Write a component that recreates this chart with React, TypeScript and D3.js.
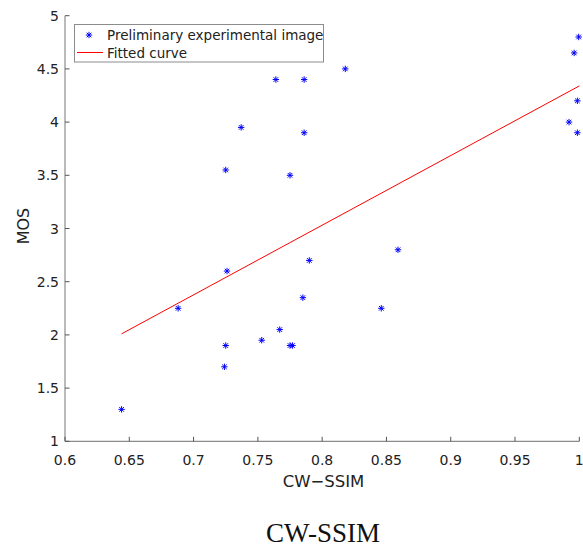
import React from "react";
import * as d3 from "d3";

const xData = [0.644, 0.688, 0.724, 0.725, 0.725, 0.726, 0.737, 0.753, 0.764, 0.767, 0.775, 0.775, 0.777, 0.785, 0.786, 0.786, 0.79, 0.818, 0.846, 0.859, 0.992, 0.996, 0.9985, 0.9985, 0.9995];
const yData = [1.3, 2.25, 1.7, 1.9, 3.55, 2.6, 3.95, 1.95, 4.4, 2.05, 3.5, 1.9, 1.9, 2.35, 4.4, 3.9, 2.7, 4.5, 2.25, 2.8, 4.0, 4.65, 4.2, 3.9, 4.8];
const fitX = [0.644, 1.0];
const fitY = [2.01, 4.34];
const xTicks = [0.6, 0.65, 0.7, 0.75, 0.8, 0.85, 0.9, 0.95, 1];
const yTicks = [1, 1.5, 2, 2.5, 3, 3.5, 4, 4.5, 5];
const legendLabels = ["Preliminary experimental image", "Fitted curve"];

const W = 583, H = 551;
const L = 65, R = 579.3, T = 15.7, B = 441.3;
const axisColor = "#8c8c8c";
const font = "'DejaVu Sans', sans-serif";

function Star({ cx, cy }: { cx: number; cy: number }) {
  const r = 3.2;
  const d = r * 0.72;
  return (
    <g stroke="#0000ff" strokeWidth={1}>
      <line x1={cx - r} y1={cy} x2={cx + r} y2={cy} />
      <line x1={cx} y1={cy - r} x2={cx} y2={cy + r} />
      <line x1={cx - d} y1={cy - d} x2={cx + d} y2={cy + d} />
      <line x1={cx - d} y1={cy + d} x2={cx + d} y2={cy - d} />
    </g>
  );
}

export default function App() {
  const x = d3.scaleLinear().domain([0.6, 1]).range([L, R]);
  const y = d3.scaleLinear().domain([1, 5]).range([B, T]);
  const line = d3.line<number>().x((_, i) => x(fitX[i])).y((d) => y(d));
  const fmt = (v: number) => String(+v.toFixed(2));
  return (
    <svg width={W} height={H} style={{ position: "absolute", left: 0, top: 0, background: "#fff" }}>
      <rect width={W} height={H} fill="#fff" />
      <line x1={L} y1={T} x2={L} y2={B} stroke={axisColor} strokeWidth={1.2} />
      <line x1={L} y1={B} x2={R} y2={B} stroke={axisColor} strokeWidth={1.2} />
      {xTicks.map((t) => (
        <g key={"x" + t}>
          <line x1={x(t)} y1={B} x2={x(t)} y2={B - 4.5} stroke="#555" strokeWidth={1} />
          <text x={x(t)} y={465} textAnchor="middle" fontFamily={font} fontSize={14} fill="#222">{fmt(t)}</text>
        </g>
      ))}
      {yTicks.map((t) => (
        <g key={"y" + t}>
          <line x1={L} y1={y(t)} x2={L + 4.5} y2={y(t)} stroke="#555" strokeWidth={1} />
          <text x={59} y={y(t) + 5} textAnchor="end" fontFamily={font} fontSize={14} fill="#222">{fmt(t)}</text>
        </g>
      ))}
      <text x={323.5} y={487} textAnchor="middle" fontFamily={font} fontSize={16.5} fill="#222">CW−SSIM</text>
      <text transform={`translate(29,226) rotate(-90)`} textAnchor="middle" fontFamily={font} fontSize={16} fill="#222">MOS</text>
      <path d={line(fitY) || ""} fill="none" stroke="#ff0000" strokeWidth={1} />
      {xData.map((v, i) => (
        <Star key={i} cx={x(v)} cy={y(yData[i])} />
      ))}
      <rect x={74.5} y={24.5} width={249} height={37.5} fill="#fff" stroke={axisColor} strokeWidth={1} />
      <Star cx={89} cy={35} />
      <text x={107} y={40} fontFamily={font} fontSize={13.5} fill="#222">{legendLabels[0]}</text>
      <line x1={77} y1={52.5} x2={103} y2={52.5} stroke="#ff0000" strokeWidth={1} />
      <text x={107} y={57.5} fontFamily={font} fontSize={13.5} fill="#222">{legendLabels[1]}</text>
      <text x={323} y={542} textAnchor="middle" fontFamily="'Liberation Serif', serif" fontSize={27} fill="#111">CW-SSIM</text>
    </svg>
  );
}
